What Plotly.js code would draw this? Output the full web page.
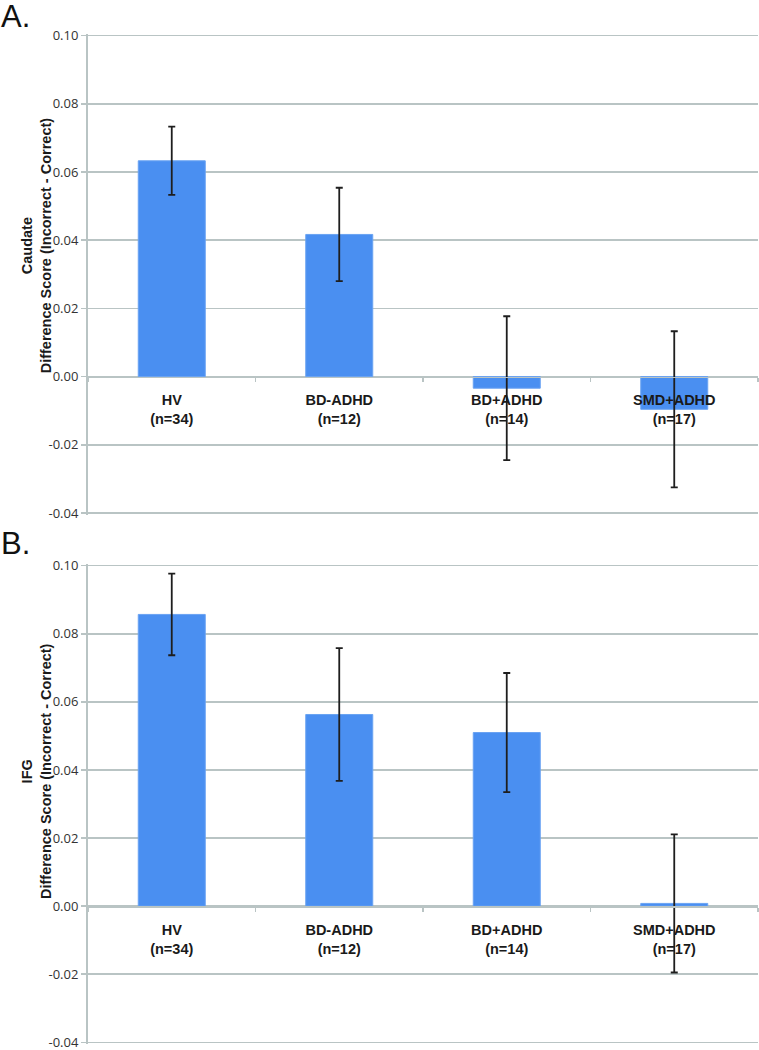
<!DOCTYPE html>
<html>
<head>
<meta charset="utf-8">
<script src="https://cdn.plot.ly/plotly-3.0.1.min.js"></script>
<style>
html,body{margin:0;padding:0;background:#fff;}
#chart{width:759px;height:1050px;}
</style>
</head>
<body>
<div id="chart"></div>
<script>
// ---- data ----
const categories = ["HV", "BD-ADHD", "BD+ADHD", "SMD+ADHD"];
const tickLabels = ["HV<br>(n=34)", "BD-ADHD<br>(n=12)", "BD+ADHD<br>(n=14)", "SMD+ADHD<br>(n=17)"];
const caudateValues = [0.0633, 0.0417, -0.0034, -0.0096];
const caudateErrors = [0.0100, 0.0137, 0.0211, 0.0229];
const ifgValues = [0.0857, 0.0563, 0.0510, 0.0008];
const ifgErrors = [0.0120, 0.0195, 0.0175, 0.0203];
const yTickVals = [-0.04, -0.02, 0.00, 0.02, 0.04, 0.06, 0.08, 0.10];
const yTickText = ["-0.04", "-0.02", "0.00", "0.02", "0.04", "0.06", "0.08", "0.10"];
const panelLabels = ["A.", "B."];
const yTitles = ["Caudate<br>Difference Score (Incorrect - Correct)", "IFG<br>Difference Score (Incorrect - Correct)"];

// ---- style ----
const barColor = "#4a8ff1";
const gridColor = "#b9c4c4";
const yRange = [-0.0405, 0.1005];
const domA = [0.5241, 1];
const domB = [0, 0.4752];
const zeroPos = (dom) => dom[0] + (0 - yRange[0]) / (yRange[1] - yRange[0]) * (dom[1] - dom[0]);

function barTrace(vals, errs, xa, ya) {
  return {
    type: "bar", x: categories, y: vals, xaxis: xa, yaxis: ya,
    marker: {color: barColor, line: {color: "#6aa3f2", width: 1}},
    error_y: {type: "data", array: errs, visible: true, color: "#1e1e1e", thickness: 1.8, width: 3.5},
    hoverinfo: "none"
  };
}

const yAxisBase = {
  range: yRange, tickmode: "array", tickvals: yTickVals, ticktext: yTickText,
  showgrid: true, gridcolor: gridColor, gridwidth: 1.5,
  zeroline: false, showline: true, linecolor: gridColor, linewidth: 2,
  ticks: "outside", ticklen: 5, tickcolor: gridColor, tickwidth: 1.5,
  tickfont: {family: "Open Sans", size: 13, color: "#333"},
  ticklabeloverflow: "allow",
  fixedrange: true
};

function xAxis(dom) {
  return {
    type: "category", categoryorder: "array", categoryarray: categories,
    anchor: "free", position: zeroPos(dom),
    tickmode: "array", tickvals: categories, ticktext: tickLabels,
    tickson: "boundaries", ticks: "outside", ticklen: 4, tickcolor: gridColor, tickwidth: 1.5,
    showline: true, linecolor: gridColor, linewidth: 1.5, showgrid: false, zeroline: false,
    tickfont: {family: "Liberation Sans", size: 14.5, color: "#1a1a1a", weight: "bold"},
    ticklabelstandoff: 10,
    range: [-0.5, 3.5], fixedrange: true, domain: [0, 1]
  };
}

const data = [
  barTrace(caudateValues, caudateErrors, "x", "y"),
  barTrace(ifgValues, ifgErrors, "x2", "y2")
];

const layout = {
  width: 759, height: 1050,
  margin: {l: 88, r: 1, t: 34, b: 6},
  paper_bgcolor: "#fff", plot_bgcolor: "#fff",
  showlegend: false, bargap: 0.6,
  xaxis: xAxis(domA),
  xaxis2: xAxis(domB),
  yaxis: Object.assign({}, yAxisBase, {domain: domA, anchor: "x"}),
  yaxis2: Object.assign({}, yAxisBase, {domain: domB, anchor: "x2"}),
  annotations: [
    {text: panelLabels[0], xref: "paper", yref: "paper", x: 0, y: 1, xanchor: "left", yanchor: "top",
     xshift: -89, yshift: 37, showarrow: false, font: {family: "Liberation Sans", size: 31, color: "#111"}},
    {text: panelLabels[1], xref: "paper", yref: "paper", x: 0, y: domB[1], xanchor: "left", yanchor: "top",
     xshift: -89, yshift: 40, showarrow: false, font: {family: "Liberation Sans", size: 31, color: "#111"}},
    {text: yTitles[0], xref: "paper", yref: "paper", x: 0, y: (domA[0] + domA[1]) / 2, xanchor: "center", yanchor: "middle",
     xshift: -52, yshift: 29, textangle: -90, showarrow: false,
     font: {family: "Liberation Sans", size: 14.5, color: "#1a1a1a", weight: "bold"}},
    {text: yTitles[1], xref: "paper", yref: "paper", x: 0, y: (domB[0] + domB[1]) / 2, xanchor: "center", yanchor: "middle",
     xshift: -52, yshift: 33, textangle: -90, showarrow: false,
     font: {family: "Liberation Sans", size: 14.5, color: "#1a1a1a", weight: "bold"}}
  ]
};

Plotly.newPlot("chart", data, layout, {staticPlot: true, displayModeBar: false});
</script>
</body>
</html>
